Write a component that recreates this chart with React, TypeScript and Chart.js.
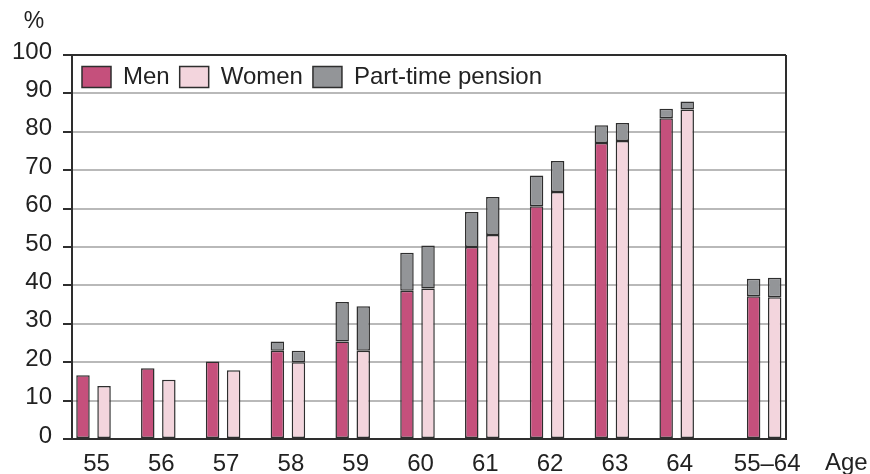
import React, { useEffect, useRef } from "react";
import { Chart, registerables } from "chart.js";

Chart.register(...registerables);

// ---- data ----
const ageLabels = ["55", "56", "57", "58", "59", "60", "61", "62", "63", "64", "55–64"];
const menValues = [16.6, 18.4, 20.2, 23.0, 25.4, 38.6, 50.0, 60.6, 77.1, 83.5, 37.2];
const menPartTime = [null, null, null, 2.4, 10.3, 9.9, 9.1, 8.0, 4.6, 2.5, 4.5];
const womenValues = [13.8, 15.4, 17.9, 20.0, 23.0, 39.2, 53.1, 64.3, 77.6, 85.8, 36.9];
const womenPartTime = [null, null, null, 3.0, 11.6, 11.2, 9.9, 8.1, 4.7, 2.1, 5.1];
const yTicks = [0, 10, 20, 30, 40, 50, 60, 70, 80, 90, 100];

// layout: extra gap before the total group (in category units)
const TOTAL_GAP = 0.35;
const xPos = ageLabels.map((_, i) => (i === ageLabels.length - 1 ? i + TOTAL_GAP : i));

const FONT = "'Liberation Sans', Arial, sans-serif";
const TEXT = "#222";
const DARK = "#2e2e2e";
const MEN_C = "#c5507c";
const WOMEN_C = "#f3d5dd";
const PT_C = "#939598";

const toPoints = (vals: (number | null)[]) => vals.map((v, i) => ({ x: xPos[i], y: v }));

// moves the built-in legend inside the plot area (top-left)
const legendInside = {
  id: "legendInside",
  afterLayout(chart: any) {
    const lg = chart.legend;
    if (!lg) return;
    const h = lg.height;
    const w = lg.width;
    lg.top = chart.chartArea.top;
    lg.bottom = lg.top + h;
    lg.left = chart.chartArea.left;
    lg.right = lg.left + w;
  },
};

const framePlugin = {
  id: "frame",
  afterDraw(chart: any) {
    const { ctx, chartArea } = chart;
    ctx.save();
    ctx.strokeStyle = DARK;
    ctx.lineWidth = 2;
    ctx.beginPath();
    ctx.moveTo(chartArea.right, chartArea.top);
    ctx.lineTo(chartArea.right, chartArea.bottom);
    ctx.stroke();
    ctx.fillStyle = TEXT;
    ctx.font = `23px ${FONT}`;
    ctx.textAlign = "center";
    ctx.textBaseline = "middle";
    ctx.fillText("%", 34, 22);
    ctx.textAlign = "left";
    ctx.textBaseline = "top";
    ctx.font = `24px ${FONT}`;
    ctx.fillText("Age", 825, chart.scales.x.top + 12);
    ctx.restore();
  },
};

export default function App() {
  const ref = useRef<HTMLCanvasElement>(null);
  useEffect(() => {
    document.body.style.margin = "0";
    const barCommon = {
      borderColor: DARK,
      borderWidth: 1.5,
      borderSkipped: false as const,
      categoryPercentage: 0.65,
      barPercentage: 0.64,
    };
    const chart = new Chart(ref.current!, {
      type: "bar",
      data: {
        datasets: [
          { label: "Men", data: toPoints(menValues), backgroundColor: MEN_C, stack: "m", ...barCommon },
          { label: "Women", data: toPoints(womenValues), backgroundColor: WOMEN_C, stack: "w", ...barCommon },
          { label: "Part-time pension", data: toPoints(menPartTime), backgroundColor: PT_C, stack: "m", ...barCommon },
          { label: "Part-time pension (women)", data: toPoints(womenPartTime), backgroundColor: PT_C, stack: "w", ...barCommon },
        ] as any,
      },
      options: {
        animation: false,
        responsive: false,
        layout: { padding: { top: 11, right: 84, left: 0, bottom: 0 } },
        plugins: {
          tooltip: { enabled: false },
          legend: {
            position: "top",
            align: "start",
            labels: {
              filter: (item: any) => item.datasetIndex !== 3,
              boxWidth: 29,
              boxHeight: 21,
              padding: 10,
              color: TEXT,
              font: { family: FONT, size: 24 },
            },
          },
        },
        scales: {
          x: {
            type: "linear",
            stacked: true,
            offset: false,
            min: -0.332,
            max: 10.687,
            grid: { display: false, drawTicks: false },
            border: { color: DARK, width: 2 },
            afterBuildTicks: (scale: any) => {
              scale.ticks = xPos.map((v) => ({ value: v }));
            },
            afterFit: (scale: any) => {
              scale.height = 35;
            },
            ticks: {
              autoSkip: false,
              maxRotation: 0,
              padding: 11,
              labelOffset: 3,
              color: TEXT,
              font: { family: FONT, size: 24 },
              callback: (_v: any, i: number) => ageLabels[i],
            },
          },
          y: {
            stacked: true,
            min: 0,
            max: 100,
            afterBuildTicks: (scale: any) => {
              scale.ticks = yTicks.map((v) => ({ value: v }));
            },
            afterFit: (scale: any) => {
              scale.width = 72;
            },
            grid: {
              color: (c: any) => (c.tick && c.tick.value === 100 ? DARK : "#b9b9b9"),
              lineWidth: 2,
              tickColor: DARK,
              tickLength: 9,
            },
            border: { color: DARK, width: 2 },
            ticks: {
              padding: 11,
              labelOffset: -3,
              color: TEXT,
              font: { family: FONT, size: 24 },
            },
          },
        },
      } as any,
      plugins: [legendInside, framePlugin],
    });
    return () => chart.destroy();
  }, []);
  return <canvas ref={ref} width={870} height={474} style={{ display: "block" }} />;
}
